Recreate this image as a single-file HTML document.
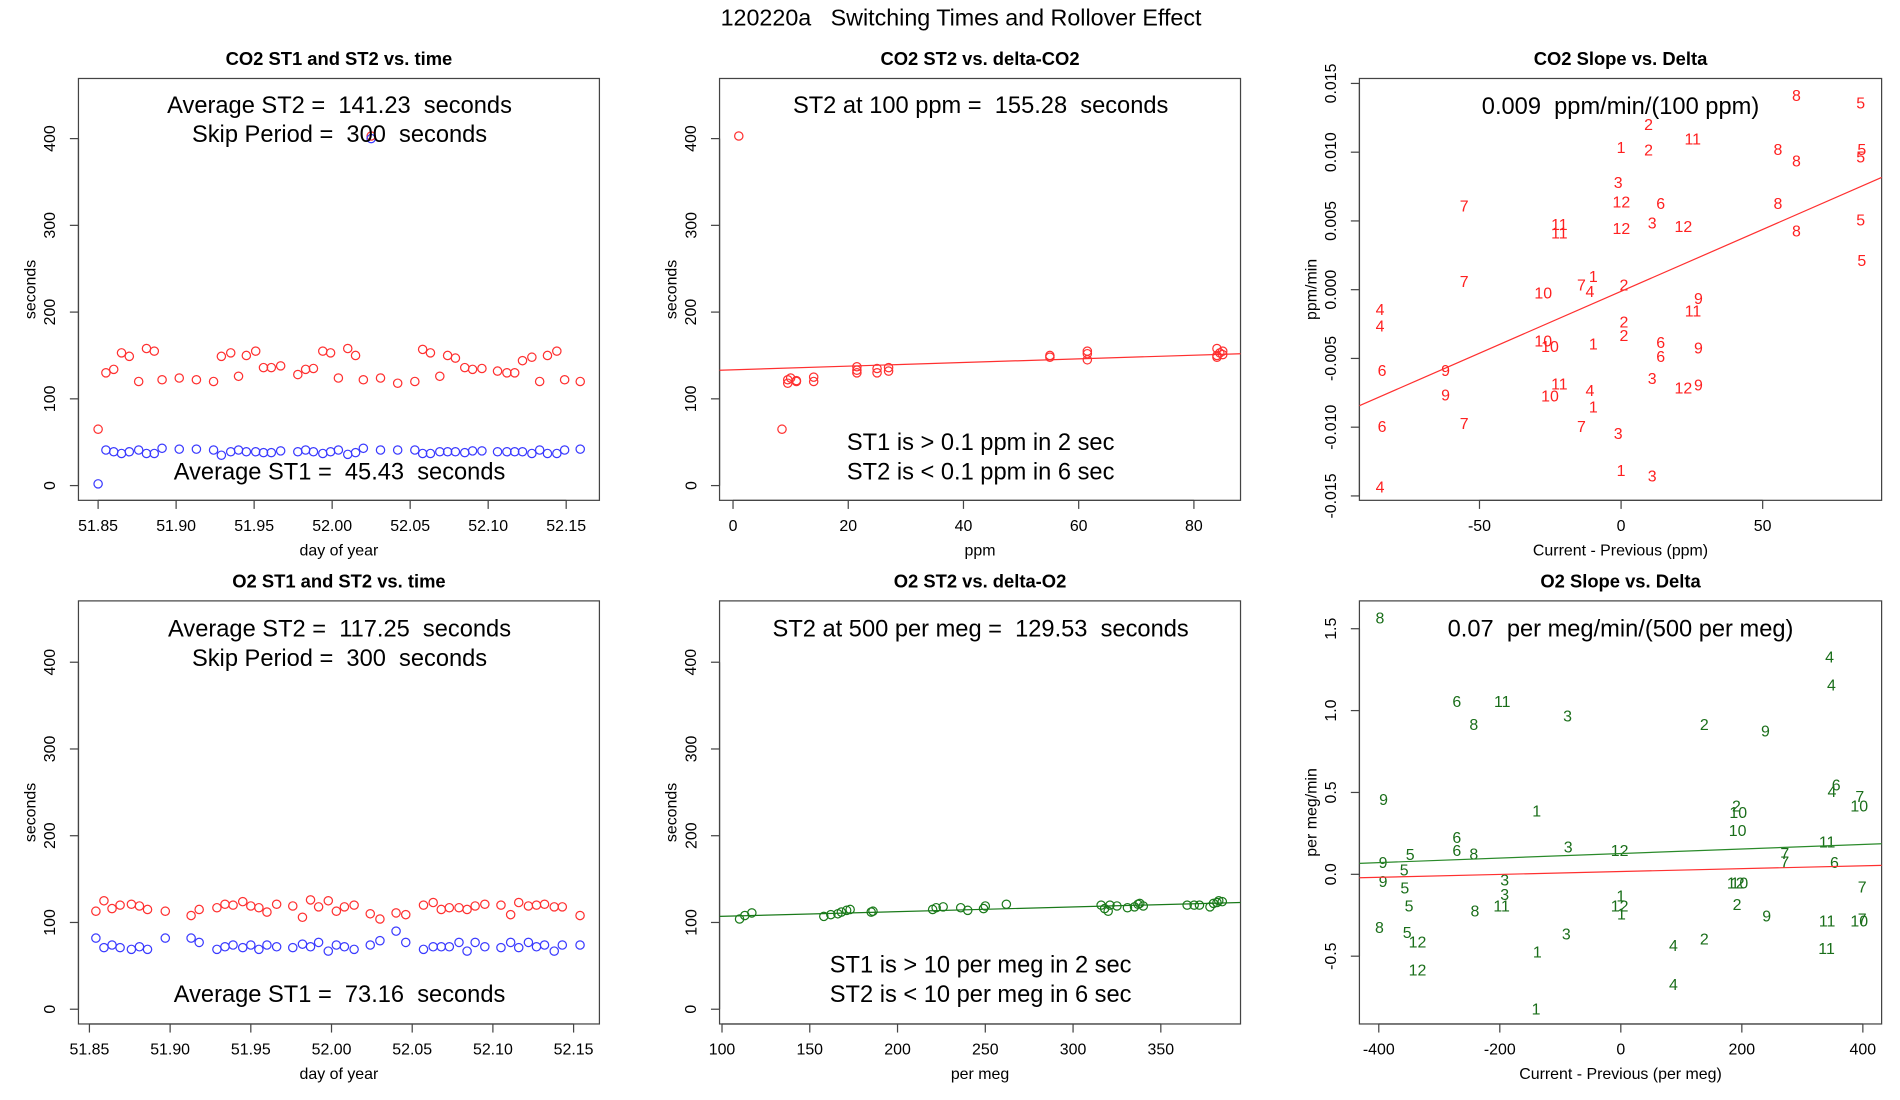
<!DOCTYPE html>
<html><head><meta charset="utf-8"><style>
html,body{margin:0;padding:0;background:#fff;}
svg{display:block;font-family:"Liberation Sans",sans-serif;}
svg text{white-space:pre;}
</style></head><body>
<svg id="fig" xmlns="http://www.w3.org/2000/svg" width="1900" height="1100" viewBox="0 0 1550 897" preserveAspectRatio="none">
<rect x="0" y="0" width="1550" height="897" fill="#fff"/>
<text x="784" y="21" font-size="19" text-anchor="middle" xml:space="preserve">120220a   Switching Times and Rollover Effect</text>
</svg>
<script>
const co2Times=[51.85,51.855,51.86,51.865,51.87,51.876,51.881,51.886,51.891,51.902,51.913,51.924,51.929,51.935,51.94,51.945,51.951,51.956,51.961,51.967,51.978,51.983,51.988,51.994,51.999,52.004,52.01,52.015,52.02,52.025,52.031,52.042,52.053,52.058,52.063,52.069,52.074,52.079,52.085,52.09,52.096,52.106,52.112,52.117,52.122,52.128,52.133,52.138,52.144,52.149,52.159];
const co2St2=[65,130,134,153,149,120,158,155,122,124,122,120,149,153,126,150,155,136,136,138,128,134,135,155,153,124,158,150,122,403,124,118,120,157,153,126,150,147,136,134,135,132,130,130,144,148,120,150,155,122,120];
const co2St1=[2,41,39,37,39,41,37,37,43,42,42,41,35,39,41,39,39,38,38,40,39,41,39,37,39,41,36,38,43,400,41,41,41,37,37,39,39,39,38,40,40,39,39,39,39,37,41,37,37,41,42];
const co2Delta=[1,8.5,9.5,9.5,10,11,11,14,14,21.5,21.5,21.5,25,25,27,27,55,55,61.5,61.5,61.5,84,84,84.5,85,85,84];
const co2DeltaSt2=[403,65,122,118,124,121,120,125,120,137,130,133,135,130,136,132,150,148,152,145,155,158,150,153,155,151,148];
const co2Fit=[133.5,0.21];
const co2SlopeLbl=["8","5","2","11","1","2","8","8","5","5","3","12","6","7","11","11","3","12","12","8","8","5","5","7","10","7","1","4","2","9","11","4","4","10","10","1","2","2","6","6","9","6","9","9","3","11","4","12","9","10","1","6","7","7","3","1","3","4"];
const co2SlopeX=[61.9,84.6,9.7,25.3,0,9.7,55.4,61.9,85,84.6,-1,0.1,14,-55.4,-21.8,-21.8,11,0.1,22,55.4,61.9,84.6,85,-55.4,-27.5,-14,-9.8,-11,1,27.3,25.4,-85.1,-85.1,-27.5,-25.1,-9.8,1,1,14,14,27.3,-84.4,-62,-62,11,-21.8,-11,22,27.3,-25.1,-9.8,-84.4,-55.4,-14,-1,0,11,-85.1];
const co2SlopeY=[0.01415,0.01362,0.01205,0.011,0.0104,0.0102,0.01024,0.0094,0.01024,0.0097,0.00785,0.00643,0.0063,0.00614,0.00478,0.00417,0.0049,0.0045,0.00465,0.0063,0.00433,0.00512,0.00215,0.00063,-0.0002,0.00037,0.001,-0.0001,0.00037,-0.0006,-0.0015,-0.0014,-0.0026,-0.0037,-0.0041,-0.0039,-0.0023,-0.0033,-0.0038,-0.0048,-0.0042,-0.00585,-0.00585,-0.0076,-0.0064,-0.0068,-0.0073,-0.0071,-0.0069,-0.0077,-0.0085,-0.0099,-0.0097,-0.0099,-0.0104,-0.0131,-0.0135,-0.0143];
const co2SlopeFit=[-0.00012,0.00009];
const o2Times=[51.854,51.859,51.864,51.869,51.876,51.881,51.886,51.897,51.913,51.918,51.929,51.934,51.939,51.945,51.95,51.955,51.96,51.966,51.976,51.982,51.987,51.992,51.998,52.003,52.008,52.014,52.024,52.03,52.04,52.046,52.057,52.063,52.068,52.073,52.079,52.084,52.089,52.095,52.105,52.111,52.116,52.122,52.127,52.132,52.138,52.143,52.154];
const o2St2=[113,125,116,120,121,119,115,113,108,115,117,121,120,124,119,117,112,121,119,106,126,118,125,113,118,120,110,104,111,109,120,123,115,117,117,115,119,121,120,109,123,119,120,121,118,118,108];
const o2St1=[82,71,74,71,69,72,69,82,82,77,69,72,74,71,74,69,74,72,71,75,72,77,67,74,72,69,74,79,90,77,69,72,72,72,77,67,77,72,71,77,71,77,72,74,67,74,74];
const o2Delta=[110,113,117,158,162,166,168,171,173,185,186,220,222,226,236,240,249,250,262,316,318,320,321,325,331,335,337,338,340,365,369,372,378,380,382,383,385];
const o2DeltaSt2=[104,108,111,107,109,110,112,114,115,112,113,115,117,118,117,114,116,119,121,120,116,113,120,119,117,118,121,122,119,120,120,120,118,122,123,125,124];
const o2Fit=[101.7,0.054];
const o2SlopeLbl=["8","4","4","6","11","8","3","2","9","6","4","7","10","9","1","2","10","10","6","6","5","8","3","12","11","7","7","6","9","5","9","5","3","3","11","5","8","1","12","1","12","10","2","9","7","11","10","7","8","5","12","3","1","4","2","11","12","4","1"];
const o2SlopeX=[-398,345,348,-271,-196,-243,-88,138,239,356,349,395,394,-392,-139,191,194,193,-271,-271,-348,-243,-87,-2,341,271,271,353,-393,-358,-393,-357,-192,-192,-197,-350,-241,0,-2,1,190,196,192,241,399,341,394,399,-399,-353,-336,-90,-138,87,138,340,-336,87,-140];
const o2SlopeY=[1.57,1.33,1.16,1.06,1.06,0.92,0.97,0.92,0.88,0.55,0.51,0.48,0.42,0.46,0.39,0.42,0.38,0.27,0.23,0.15,0.126,0.127,0.17,0.15,0.2,0.13,0.08,0.076,0.075,0.03,-0.04,-0.08,-0.03,-0.12,-0.19,-0.19,-0.22,-0.13,-0.19,-0.24,-0.05,-0.05,-0.18,-0.25,-0.075,-0.28,-0.28,-0.27,-0.32,-0.35,-0.41,-0.36,-0.47,-0.43,-0.39,-0.45,-0.58,-0.67,-0.82];
const o2SlopeFitGreen=[0.127,0.000139];
const o2SlopeFitRed=[0.017,0.0000877];
const timeTicks=[51.85,51.9,51.95,52.0,52.05,52.1,52.15];
const secTicks=[0,100,200,300,400];
const ppmTicks=[0,20,40,60,80];
const co2DiffTicks=[-50,0,50];
const co2SlopeTicks=[-0.015,-0.01,-0.005,0,0.005,0.01,0.015];
const pmTicks=[100,150,200,250,300,350];
const o2DiffTicks=[-400,-200,0,200,400];
const o2SlopeTicks=[-0.5,0,0.5,1,1.5];

const NS="http://www.w3.org/2000/svg";
const svg=document.getElementById('fig');
function mk(tag,attrs,parent){const e=document.createElementNS(NS,tag);for(const k in attrs)e.setAttribute(k,attrs[k]);(parent||svg).appendChild(e);return e;}
function lin(d0,d1,r0,r1){return v=>r0+(v-d0)/(d1-d0)*(r1-r0);}

function panel(name,box,xd,yd,title,xlab,ylab,xt,xfmt,yt,yfmt){
  const g=mk('g',{});
  
  
  const [x0,y0,x1,y1]=box;
  const sx=lin(xd[0],xd[1],x0,x1), sy=lin(yd[0],yd[1],y1,y0);
  const r=mk('rect',{x:x0,y:y0,width:x1-x0,height:y1-y0,fill:'none',stroke:'#444','stroke-width':1},g);
  
  
  const t=mk('text',{x:(x0+x1)/2,y:y0-11,'font-size':15,'font-weight':'bold','text-anchor':'middle'},g);
  t.textContent=title;
  
  
  const xa=mk('g',{},g);
  
  
  mk('line',{x1:sx(xt[0]),x2:sx(xt[xt.length-1]),y1:y1,y2:y1,stroke:'#444'},xa);
  xt.forEach(v=>{const x=sx(v);mk('line',{x1:x,x2:x,y1:y1,y2:y1+7,stroke:'#444'},xa);
    const l=mk('text',{x:x,y:y1+25,'font-size':13,'text-anchor':'middle'},xa);l.textContent=xfmt(v);
    
    });
  const xl=mk('text',{x:(x0+x1)/2,y:y1+45,'font-size':13,'text-anchor':'middle'},g);xl.textContent=xlab;
  
  
  const ya=mk('g',{},g);
  
  
  mk('line',{x1:x0,x2:x0,y1:sy(yt[0]),y2:sy(yt[yt.length-1]),stroke:'#444'},ya);
  yt.forEach(v=>{const y=sy(v);mk('line',{x1:x0-7,x2:x0,y1:y,y2:y,stroke:'#444'},ya);
    const l=mk('text',{x:x0-19,y:y,'font-size':13,'text-anchor':'middle',transform:`rotate(-90 ${x0-19} ${y})`},ya);l.textContent=yfmt(v);
    
    });
  const cy=(y0+y1)/2, lx=x0-35;
  const yl=mk('text',{x:lx,y:cy,'font-size':13,'text-anchor':'middle',transform:`rotate(-90 ${lx} ${cy})`},g);yl.textContent=ylab;
  
  
  return {g,sx,sy,box};
}
function note(p,txt,x,y,name){const t=mk('text',{x:x,y:y,'font-size':19.3,'text-anchor':'middle'},p.g);t.textContent=txt;
  
  }
function circles(p,xs,ys,color,name){xs.forEach((xv,i)=>{const c=mk('circle',{cx:p.sx(xv),cy:p.sy(ys[i]),r:3.4,fill:'none',stroke:color,'stroke-width':1},p.g);
  
  });}
function labels(p,xs,ys,lbl,color,name){xs.forEach((xv,i)=>{const t=mk('text',{x:p.sx(xv),y:p.sy(ys[i])+5,'font-size':13,fill:color,'text-anchor':'middle'},p.g);t.textContent=lbl[i];
  
  });}
function fitline(p,fit,xd,color,name){const a=fit[0],b=fit[1];const l=mk('line',{x1:p.sx(xd[0]),y1:p.sy(a+b*xd[0]),x2:p.sx(xd[1]),y2:p.sy(a+b*xd[1]),stroke:color,'stroke-width':1},p.g);
  
  }

const f2=v=>v.toFixed(2), f0=v=>String(v), f3=v=>v.toFixed(3), f1=v=>v.toFixed(1);

const p1=panel('co2-time-panel',[64,64,489,408],[51.8374,52.1713],[-17,469.3],'CO2 ST1 and ST2 vs. time','day of year','seconds',timeTicks,f2,secTicks,f0);
circles(p1,co2Times,co2St2,'#ff3030','co2-st2-point');
circles(p1,co2Times,co2St1,'#3a3aff','co2-st1-point');
note(p1,'Average ST2 =  141.23  seconds',277,92,'avg-st2-note');
note(p1,'Skip Period =  300  seconds',277,116,'skip-period-note');
note(p1,'Average ST1 =  45.43  seconds',277,391,'avg-st1-note');

const p2=panel('co2-delta-panel',[587,64,1012,408],[-2.34,88.09],[-17,469.3],'CO2 ST2 vs. delta-CO2','ppm','seconds',ppmTicks,f0,secTicks,f0);
circles(p2,co2Delta,co2DeltaSt2,'#ff3030','co2-delta-point');
fitline(p2,co2Fit,[-2.34,88.09],'#ff3030','co2-st2-fit-line');
note(p2,'ST2 at 100 ppm =  155.28  seconds',800,92,'st2-100ppm-note');
note(p2,'ST1 is > 0.1 ppm in 2 sec',800,367,'st1-threshold-note');
note(p2,'ST2 is < 0.1 ppm in 6 sec',800,391,'st2-threshold-note');

const p3=panel('co2-slope-panel',[1109,64,1535,408],[-92.4,92.0],[-0.01532,0.01536],'CO2 Slope vs. Delta','Current - Previous (ppm)','ppm/min',co2DiffTicks,f0,co2SlopeTicks,f3);
labels(p3,co2SlopeX,co2SlopeY,co2SlopeLbl,'#ff2020','co2-slope-label');
fitline(p3,co2SlopeFit,[-92.4,92.0],'#ff3030','co2-slope-fit-line');
note(p3,'0.009  ppm/min/(100 ppm)',1322,93,'co2-slope-note');

const p4=panel('o2-time-panel',[64,490,489,835],[51.8432,52.166],[-17,470.7],'O2 ST1 and ST2 vs. time','day of year','seconds',timeTicks,f2,secTicks,f0);
circles(p4,o2Times,o2St2,'#ff3030','o2-st2-point');
circles(p4,o2Times,o2St1,'#3a3aff','o2-st1-point');
note(p4,'Average ST2 =  117.25  seconds',277,519,'o2-avg-st2-note');
note(p4,'Skip Period =  300  seconds',277,543,'o2-skip-period-note');
note(p4,'Average ST1 =  73.16  seconds',277,817,'o2-avg-st1-note');

const p5=panel('o2-delta-panel',[587,490,1012,835],[98.6,395.4],[-17,470.7],'O2 ST2 vs. delta-O2','per meg','seconds',pmTicks,f0,secTicks,f0);
circles(p5,o2Delta,o2DeltaSt2,'#1a7a1a','o2-delta-point');
fitline(p5,o2Fit,[98.6,395.4],'#1a7a1a','o2-st2-fit-line');
note(p5,'ST2 at 500 per meg =  129.53  seconds',800,519,'st2-500pm-note');
note(p5,'ST1 is > 10 per meg in 2 sec',800,793,'o2-st1-threshold-note');
note(p5,'ST2 is < 10 per meg in 6 sec',800,817,'o2-st2-threshold-note');

const p6=panel('o2-slope-panel',[1109,490,1535,835],[-432,431],[-0.914,1.670],'O2 Slope vs. Delta','Current - Previous (per meg)','per meg/min',o2DiffTicks,f0,o2SlopeTicks,f1);
labels(p6,o2SlopeX,o2SlopeY,o2SlopeLbl,'#1a6e1a','o2-slope-label');
fitline(p6,o2SlopeFitGreen,[-432,431],'#2a8a2a','o2-slope-fit-line');
fitline(p6,o2SlopeFitRed,[-432,431],'#ff3030','o2-reference-fit-line');
note(p6,'0.07  per meg/min/(500 per meg)',1322,519,'o2-slope-note');
</script>
</body></html>
